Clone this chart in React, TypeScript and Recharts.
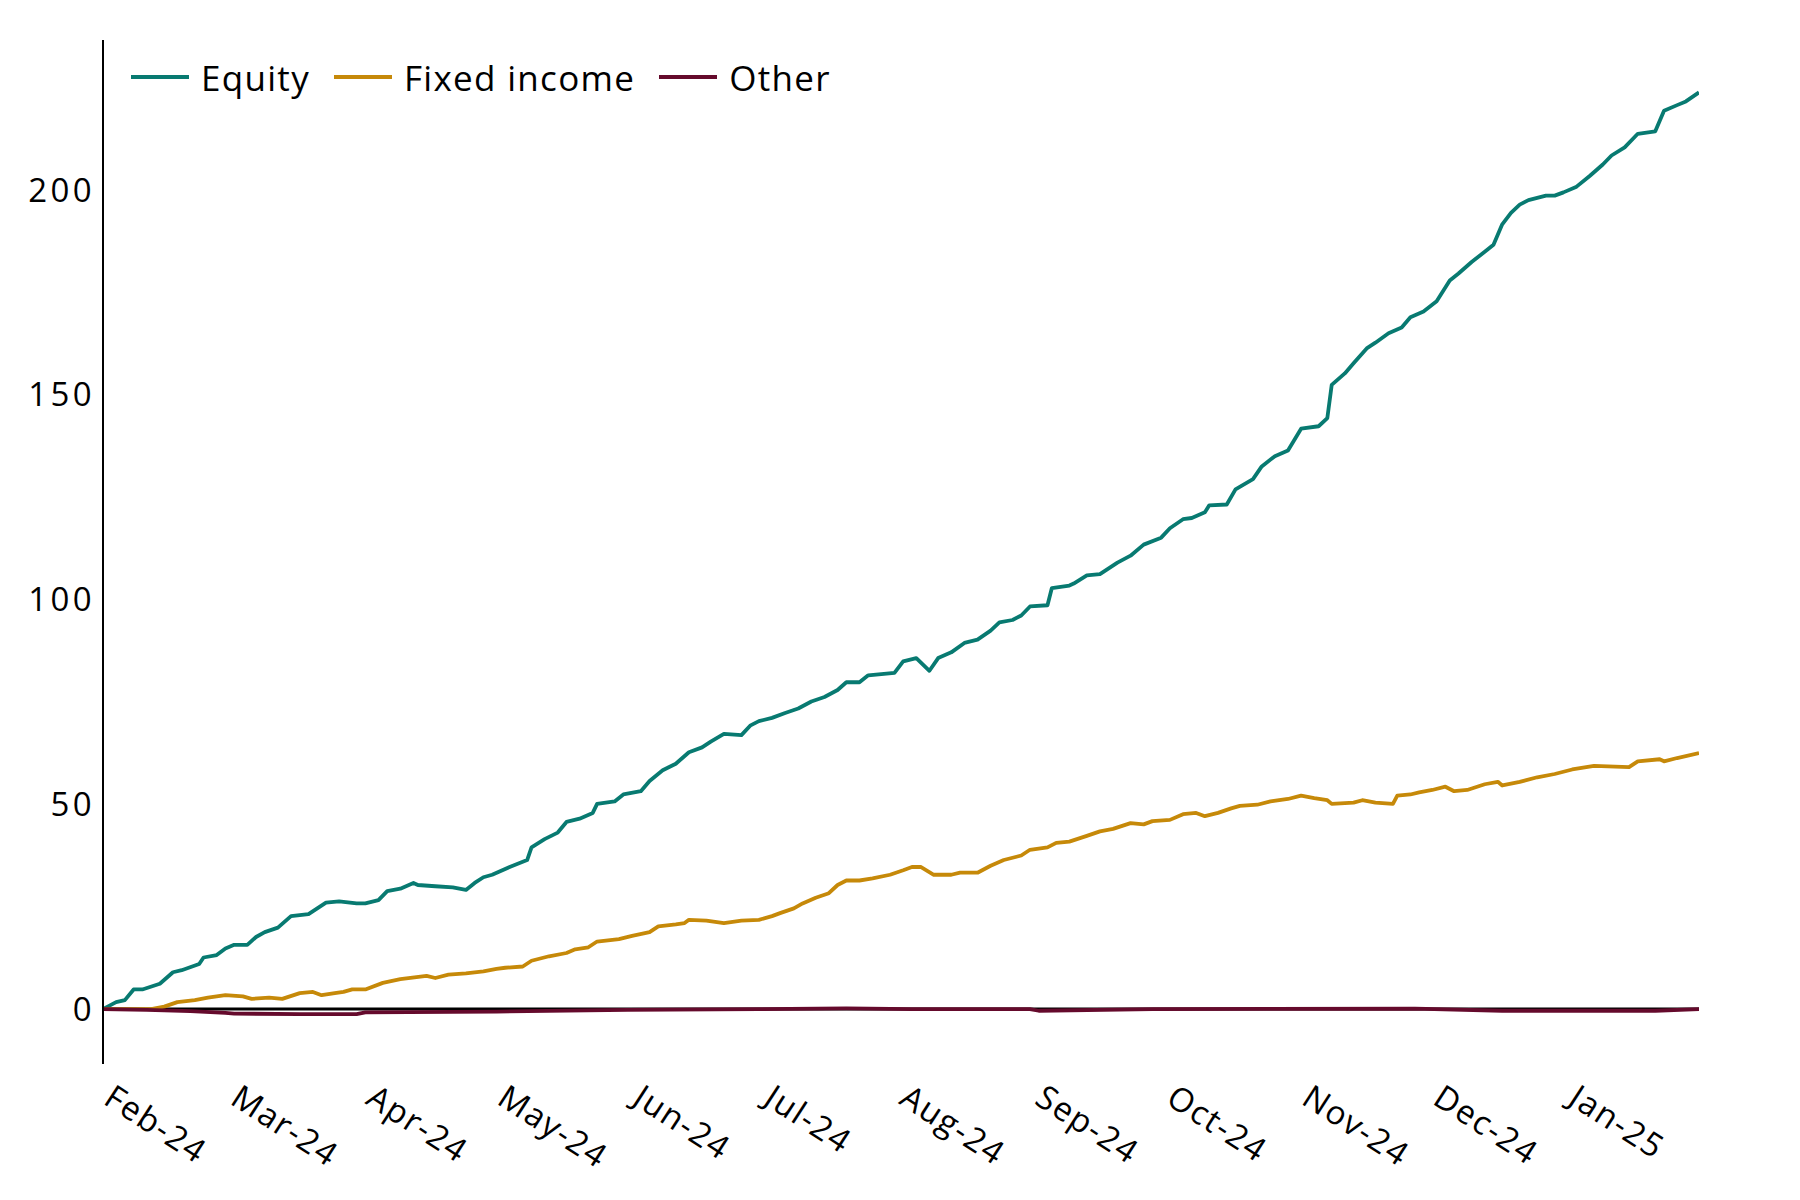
import { LineChart, Line, XAxis, YAxis, ReferenceLine } from 'recharts';

// days counted from 1 Feb 2024
const monthTicks = [0, 29, 60, 90, 121, 151, 182, 213, 243, 274, 304, 335];
const monthLabels = ['Feb-24', 'Mar-24', 'Apr-24', 'May-24', 'Jun-24', 'Jul-24', 'Aug-24', 'Sep-24', 'Oct-24', 'Nov-24', 'Dec-24', 'Jan-25'];
const yTicks = [0, 50, 100, 150, 200];

const equityDays = [
  0, 3, 5, 7, 9, 13, 16, 18, 22, 23, 26, 28, 30, 33, 35, 37, 40, 43, 47, 49, 51, 54, 58, 60, 63, 65, 68, 71, 72, 76,
  80, 83, 85, 87, 89, 93, 97, 98, 101, 104, 106, 109, 112, 113, 117, 119, 123, 125, 128, 131, 134, 137, 139, 142, 146, 148, 150, 153, 156, 159,
  162, 165, 168, 170, 173, 175, 178, 181, 183, 186, 189, 191, 194, 197, 200, 203, 205, 208, 210, 212, 216, 217, 221, 222, 225, 228, 232, 235, 238, 242,
  244, 247, 249, 252, 253, 257, 259, 263, 265, 268, 271, 274, 278, 280, 281, 284, 286, 289, 291, 294, 297, 299, 302, 305, 308, 310, 313, 316, 318, 320,
  322, 324, 326, 330, 332, 334, 337, 340, 343, 345, 348, 351, 355, 357, 360, 362, 365,
];
const equityValues = [
  0, 1.7, 2.2, 4.8, 4.8, 6.2, 9, 9.5, 11, 12.6, 13.2, 14.8, 15.7, 15.7, 17.6, 18.8, 19.9, 22.7, 23.2, 24.6, 26, 26.3, 25.8, 25.8, 26.6, 28.8, 29.4, 30.8, 30.3, 30,
  29.7, 29.1, 30.8, 32.2, 32.8, 34.7, 36.4, 39.5, 41.5, 43.1, 45.7, 46.5, 47.9, 50.1, 50.7, 52.4, 53.2, 55.7, 58.3, 59.9, 62.7, 63.9, 65.3, 67.2, 66.9, 69.2, 70.3, 71.1, 72.3, 73.4,
  75.1, 76.2, 77.9, 79.8, 79.8, 81.5, 81.8, 82.1, 84.9, 85.7, 82.6, 85.7, 87.1, 89.4, 90.2, 92.4, 94.4, 95, 96.1, 98.3, 98.6, 102.8, 103.4, 103.9, 105.9, 106.2, 109, 110.7, 113.4, 115.1,
  117.4, 119.6, 119.9, 121.3, 123, 123.2, 126.9, 129.4, 132.5, 135, 136.4, 141.7, 142.3, 144.3, 152.4, 155.2, 157.7, 161.3, 162.7, 165, 166.4, 168.9, 170.3, 172.8, 177.9, 179.6, 182.4, 184.9, 186.6, 191.6,
  194.4, 196.4, 197.5, 198.6, 198.6, 199.4, 200.8, 203.4, 206.2, 208.4, 210.4, 213.7, 214.3, 219.3, 220.7, 221.6, 223.8,
];

const fixedDays = [
  0, 11, 14, 17, 21, 24, 28, 32, 34, 38, 41, 45, 48, 50, 53, 55, 57, 60, 64, 68, 74, 76, 79, 83, 87, 90, 92, 96, 98, 102,
  106, 108, 111, 113, 118, 121, 125, 127, 131, 133, 134, 138, 142, 146, 150, 153, 155, 158, 160, 163, 166, 168, 170, 173, 176, 180, 183, 185, 187, 190,
  194, 196, 200, 203, 206, 210, 212, 216, 218, 221, 225, 228, 231, 235, 238, 240, 244, 247, 250, 252, 255, 258, 260, 264, 267, 271, 274, 277, 280, 281,
  286, 288, 291, 295, 296, 299, 301, 304, 307, 309, 312, 316, 319, 320, 324, 328, 332, 336, 341, 349, 351, 356, 357, 360, 365,
];
const fixedValues = [
  0, 0, 0.6, 1.7, 2.2, 2.8, 3.4, 3.1, 2.5, 2.8, 2.5, 3.9, 4.2, 3.4, 3.9, 4.2, 4.8, 4.8, 6.4, 7.3, 8.1, 7.6, 8.4, 8.7, 9.2, 9.8, 10.1, 10.4, 11.8, 12.9,
  13.7, 14.6, 15.1, 16.5, 17.1, 17.9, 18.8, 20.2, 20.7, 21, 21.8, 21.6, 21, 21.6, 21.8, 22.7, 23.5, 24.6, 25.8, 27.2, 28.3, 30.3, 31.4, 31.4, 31.9, 32.8, 33.9, 34.7, 34.7, 32.8,
  32.8, 33.3, 33.3, 35, 36.4, 37.5, 38.9, 39.5, 40.6, 40.9, 42.3, 43.4, 44, 45.4, 45.1, 45.9, 46.2, 47.6, 47.9, 47.1, 47.9, 49, 49.6, 49.9, 50.7, 51.3, 52.1, 51.5, 51, 50.1,
  50.4, 51, 50.4, 50.1, 52.1, 52.4, 52.9, 53.5, 54.3, 53.2, 53.5, 54.9, 55.5, 54.6, 55.5, 56.6, 57.4, 58.5, 59.4, 59.1, 60.5, 61, 60.5, 61.3, 62.5,
];

const otherDays = [0, 10, 20, 28, 30, 45, 58, 60, 90, 120, 150, 170, 185, 212, 214, 240, 300, 320, 355, 365];
const otherValues = [0, -0.2, -0.5, -0.9, -1.1, -1.2, -1.2, -0.8, -0.6, -0.2, 0, 0.2, 0, 0, -0.4, 0, 0.1, -0.4, -0.4, 0];

const toRows = (days: number[], values: number[]) => days.map((day, i) => ({ day, value: values[i] }));

const series = [
  { name: 'Equity', color: '#087a71', data: toRows(equityDays, equityValues) },
  { name: 'Fixed income', color: '#c68909', data: toRows(fixedDays, fixedValues) },
  { name: 'Other', color: '#650a2c', data: toRows(otherDays, otherValues) },
];

const FONT = '"Open Sans", Lato, sans-serif';

const MonthTick = ({ x, y, payload }: any) => {
  const idx = monthTicks.indexOf(payload.value);
  return (
    <g transform={`translate(${x - 1},${y + 37})`}>
      <text x={0} y={0} transform="rotate(33)" textAnchor="start" fontFamily={FONT} fontSize={33} letterSpacing={1.5} fill="#000">
        {monthLabels[idx]}
      </text>
    </g>
  );
};

export default function App() {
  return (
    <div style={{ position: 'absolute', left: 0, top: 0, width: 1800, height: 1200, background: '#fff' }}>
      <LineChart width={1800} height={1200} margin={{ top: 40, right: 101, left: 13, bottom: 36 }}>
        <XAxis
          dataKey="day"
          type="number"
          domain={[0, 365]}
          ticks={monthTicks}
          axisLine={false}
          tickLine={false}
          tickSize={0}
          height={100}
          tick={<MonthTick />}
          allowDataOverflow
        />
        <YAxis
          type="number"
          domain={[-13.4, 236.6]}
          ticks={yTicks}
          width={90}
          axisLine={{ stroke: '#000', strokeWidth: 2 }}
          tickLine={false}
          tickSize={0}
          tickMargin={8}
          tick={{ fontFamily: FONT, fontSize: 33, letterSpacing: 3.4, fill: '#000' }}
          allowDataOverflow
        />
        <ReferenceLine y={0} stroke="#000" strokeWidth={3} />
        {series.map((s) => (
          <Line
            key={s.name}
            data={s.data}
            dataKey="value"
            name={s.name}
            type="linear"
            stroke={s.color}
            strokeWidth={3.8}
            strokeLinejoin="round"
            dot={false}
            isAnimationActive={false}
          />
        ))}
      </LineChart>
      <div
        style={{
          position: 'absolute',
          left: 131,
          top: 57,
          height: 40,
          display: 'flex',
          alignItems: 'center',
          fontFamily: FONT,
          fontSize: 35,
          letterSpacing: 1.3,
          color: '#000',
        }}
      >
        {series.map((s) => (
          <div key={s.name} style={{ display: 'flex', alignItems: 'center', marginRight: 24 }}>
            <span style={{ display: 'inline-block', width: 58, height: 4, background: s.color, marginRight: 12 }} />
            <span>{s.name}</span>
          </div>
        ))}
      </div>
    </div>
  );
}
